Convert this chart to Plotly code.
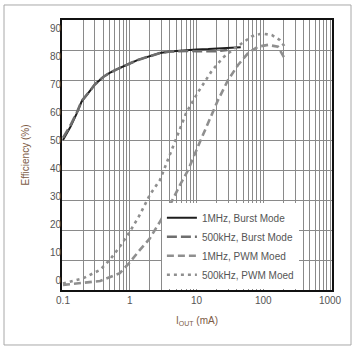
import plotly.graph_objects as go

# ---------------- data ----------------
burst1_x = [0.1, 0.13, 0.16, 0.19, 0.25, 0.3, 0.4, 0.5, 0.65, 0.8, 1.0, 1.33, 2.0, 2.84, 4.0, 5.6, 8.0, 10, 15, 20, 30, 46]
burst1_y = [50, 54.5, 58.8, 62.8, 66.2, 68.5, 71, 72.4, 73.6, 74.6, 75.5, 76.7, 78, 79, 79.5, 79.8, 80.1, 80.2, 80.3, 80.4, 80.6, 80.9]

burst5_x = [0.1, 0.13, 0.16, 0.19, 0.25, 0.3, 0.4, 0.5, 0.65, 0.8, 1.0, 1.33, 2.0, 2.84, 4.0, 5.6, 8.0, 10, 15, 20, 29]
burst5_y = [50.7, 55, 59, 63, 66.2, 68.5, 71, 72.4, 73.6, 74.6, 75.5, 76.7, 78, 79, 79.5, 79.7, 79.7, 79.6, 79.5, 79.6, 80]

pwm1_x = [0.1, 0.2, 0.36, 0.71, 1.0, 1.41, 2.0, 2.84, 4.0, 5.65, 7.5, 10.5, 14.9, 21, 29.7, 41.9, 59, 83, 118, 166, 209]
pwm1_y = [1.7, 2.3, 3.0, 5.6, 9.2, 13.3, 17.2, 22.8, 28.3, 35, 40, 47.8, 55.6, 63.3, 70, 75, 78.9, 81.1, 81.7, 81.1, 77.2]

pwm5_x = [0.1, 0.2, 0.36, 0.5, 0.71, 1.0, 1.41, 2.0, 2.84, 4.0, 5.3, 7.0, 10.6, 16.9, 25, 37, 67, 95, 134, 178, 219]
pwm5_y = [2.2, 3.9, 6.7, 10, 14.4, 19.4, 25, 31.7, 36.7, 45, 52, 59, 66, 73, 77.5, 80.5, 84.5, 85.5, 85, 83.3, 80.5]

series_names = ["1MHz, Burst Mode", "500kHz, Burst Mode", "1MHz, PWM Moed", "500kHz, PWM Moed"]

x_decades = [0.1, 1, 10, 100, 1000]
x_decade_labels = ["0.1", "1", "10", "100", "1000"]
y_ticks = [0, 10, 20, 30, 40, 50, 60, 70, 80, 90]

# ---------------- figure ----------------
FONT = "Liberation Sans, Arial, sans-serif"
GRID = "#8a8a8a"
TICKC = "#555555"
TITLEC = "#7d5b45"

minor_vals = []
for d in [0.1, 1, 10, 100]:
    for k in range(2, 10):
        minor_vals.append(round(d * k, 6))

fig = go.Figure()
fig.add_trace(go.Scatter(x=burst1_x, y=burst1_y, mode="lines", name=series_names[0],
                         line=dict(color="#1e1e1e", width=2)))
fig.add_trace(go.Scatter(x=burst5_x, y=burst5_y, mode="lines", name=series_names[1],
                         line=dict(color="#6e6e6e", width=2.6, dash="10px,4px")))
fig.add_trace(go.Scatter(x=pwm1_x, y=pwm1_y, mode="lines", name=series_names[2],
                         line=dict(color="#8f8f8f", width=2.6, dash="7px,4px")))
fig.add_trace(go.Scatter(x=pwm5_x, y=pwm5_y, mode="lines", name=series_names[3],
                         line=dict(color="#8f8f8f", width=2.6, dash="3px,4px")))
# invisible trace to activate the label axis
fig.add_trace(go.Scatter(x=[1], y=[0], yaxis="y2", mode="markers",
                         marker=dict(opacity=0), showlegend=False, hoverinfo="skip"))

fig.update_layout(
    width=358, height=350,
    margin=dict(l=62, r=26, t=20, b=60),
    paper_bgcolor="white", plot_bgcolor="white",
    font=dict(family=FONT, size=10, color=TICKC),
    showlegend=True,
    legend=dict(x=0.37, y=0.003, xanchor="left", yanchor="bottom",
                bgcolor="white", borderwidth=0,
                font=dict(family=FONT, size=10, color=TICKC),
                traceorder="normal", tracegroupgap=0, itemwidth=30),
    xaxis=dict(type="log", range=[-1.015, 3.03],
               tickvals=x_decades, ticktext=x_decade_labels, ticks="",
               showgrid=True, gridcolor=GRID, gridwidth=1,
               minor=dict(tickvals=minor_vals, showgrid=True, gridcolor=GRID, gridwidth=1, ticks=""),
               showline=True, linecolor="#111111", linewidth=1.6, mirror=True,
               zeroline=False, tickfont=dict(family=FONT, size=10, color=TICKC),
               title=dict(text="I<sub>OUT</sub> (mA)", standoff=12,
                          font=dict(family=FONT, size=10, color=TITLEC))),
    yaxis=dict(range=[0, 90], tickvals=y_ticks, showticklabels=False, ticks="",
               showgrid=True, gridcolor=GRID, gridwidth=1,
               showline=True, linecolor="#111111", linewidth=1.6, mirror=True,
               zeroline=False),
    yaxis2=dict(overlaying="y", side="left", range=[-3.571, 92.857],
                tickvals=y_ticks, showgrid=False, zeroline=False, showline=False,
                ticks="", tickfont=dict(family=FONT, size=10, color=TICKC),
                title=dict(text="Efficiency (%)", standoff=18,
                           font=dict(family=FONT, size=10, color=TITLEC))),
    shapes=[dict(type="rect", xref="paper", yref="paper",
                 x0=-0.2148, x1=1.0704, y0=-0.2037, y1=1.0556,
                 line=dict(color="#a8a8a8", width=1), layer="below")],
)

fig.write_html("out.html")
